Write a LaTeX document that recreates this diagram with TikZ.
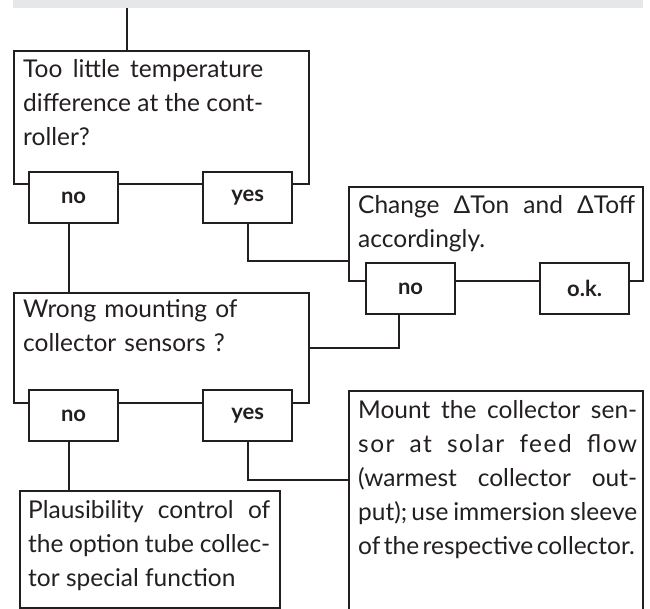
\documentclass[tikz,border=0pt]{standalone}
\usepackage{fontspec}
\setmainfont{Lato}
\usetikzlibrary{calc}
\definecolor{ink}{RGB}{35,31,32}
\definecolor{bandgray}{RGB}{230,231,232}
\begin{document}
\begin{tikzpicture}[x=1pt,y=-1pt,
  frame/.style={draw=ink, line width=2.2pt, fill=white, rectangle, inner sep=0pt, anchor=north west},
  lab/.style={frame, minimum width=89pt, minimum height=51pt, text=ink, font=\fontsize{22}{26}\selectfont\bfseries},
  txt/.style={anchor=north west, inner sep=0pt, align=justify, text=ink, font=\fontsize{24.5}{34}\selectfont},
  conn/.style={draw=ink, line width=2.2pt}]
\useasboundingbox (0,0) rectangle (650,609);
\clip (0,0) rectangle (650,609);
% top band and entry line
\node[fill=bandgray, inner sep=0pt, minimum width=630pt, minimum height=8pt, anchor=north west] (band) at (13,0) {};
\coordinate (entry) at (127,8);
% question 1
\node[frame, minimum width=295pt, minimum height=133pt] (q1) at (13,50) {};
\node[txt, text width=240pt] (q1t) at ($(q1.north west)+(10,4)$) {\strut Too little temperature\linebreak difference at the cont-\linebreak roller?};
\node[lab] (n1) at (28,171) {no};
\node[lab] (y1) at (202,171) {yes};
% action: change dT
\node[frame, minimum width=294pt, minimum height=94pt] (q3) at (348,186) {};
\node[txt, text width=277pt] (q3t) at ($(q3.north west)+(10,4)$) {\strut Change ΔTon and ΔToff\linebreak accordingly.};
\node[lab] (n3) at (365,262) {no};
\node[lab] (k3) at (539,262) {o.k.};
% question 2
\node[frame, minimum width=295pt, minimum height=110pt] (q2) at (13,292) {};
\node[txt, align=left, text width=240pt] (q2t) at ($(q2.north west)+(10,2)$) {\strut Wrong mounting of\\collector sensors ?};
\node[lab] (n2) at (28,389) {no};
\node[lab] (y2) at (202,389) {yes};
% action: mount sensor
\node[frame, minimum width=294pt, minimum height=260pt] (m) at (348,390) {};
\node[txt, text width=279pt] (mt) at ($(m.north west)+(10,4)$) {\strut Mount the collector sen-\linebreak {\addfontfeature{LetterSpace=6}sor at solar feed flow}\linebreak (warmest collector out-\linebreak put);\,use immersion sleeve\linebreak {\spaceskip=0.55\fontdimen2\font\mbox{of the respective collector.}}};
% action: plausibility
\node[frame, minimum width=260pt, minimum height=117pt] (p) at (19,490) {};
\node[txt, text width=242pt] (pt) at ($(p.north west)+(9,4)$) {\strut Plausibility control of\linebreak the option tube collec-\linebreak tor special function};
% connectors
\draw[conn] (entry) -- (entry |- q1.north);
\draw[conn] ([xshift=-5pt]n1.south) -- ([xshift=-5pt]n1.south |- q2.north);
\draw[conn] (y1.south) |- ($(q3.north west)!0.78!(q3.south west)$);
\draw[conn] ([xshift=-12pt]n3.south) |- (q2.east);
\draw[conn] ([xshift=-5pt]n2.south) -- ([xshift=-5pt]n2.south |- p.north);
\draw[conn] (y2.south) |- ($(m.north west)+(0,90)$);
\end{tikzpicture}
\end{document}
